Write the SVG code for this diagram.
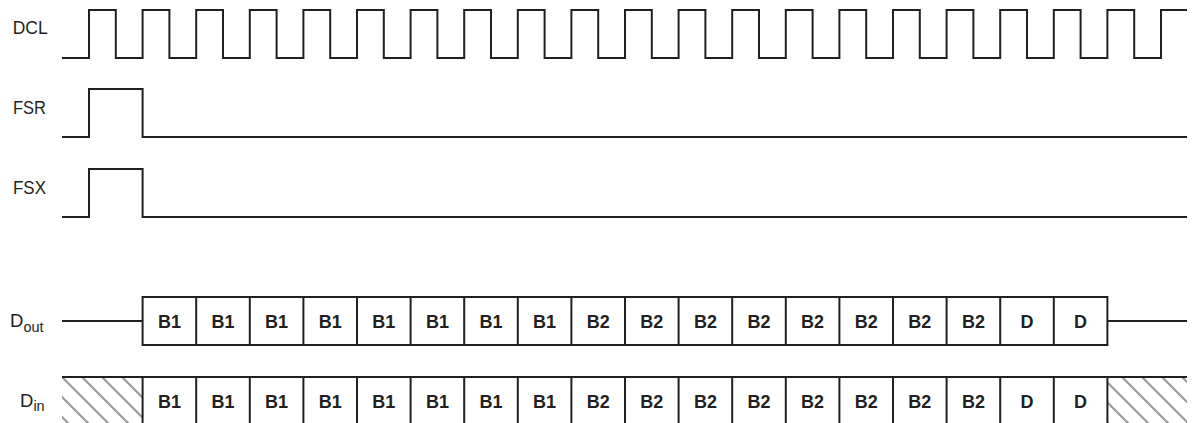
<svg xmlns="http://www.w3.org/2000/svg" width="1193" height="423" viewBox="0 0 1193 423">
<style>
.sig{fill:none;stroke:#231f20;stroke-width:2;stroke-linejoin:miter;stroke-linecap:butt}
.lbl{font-family:"Liberation Sans",Arial,sans-serif;font-size:18.5px;fill:#231f20}
.sub{font-size:14.5px}
.cell{font-family:"Liberation Sans",Arial,sans-serif;font-size:18px;font-weight:bold;fill:#231f20;text-anchor:middle}
</style>
<defs>
<pattern id="hatch" patternUnits="userSpaceOnUse" width="20" height="20" x="62" y="377">
<path d="M-5,-5 L25,25 M-5,15 L5,25 M15,-5 L25,5" stroke="#9a9a9a" stroke-width="2.2" fill="none"/>
</pattern>
</defs>
<rect width="1193" height="423" fill="#ffffff"/>

<g id="dcl">
<text class="lbl" x="12.7" y="33.5" textLength="35" lengthAdjust="spacingAndGlyphs">DCL</text>
<path class="sig" d="M62,58 H89 V10 H115.8 V58 H142.6 V10 H169.4 V58 H196.2 V10 H223 V58 H249.8 V10 H276.6 V58 H303.4 V10 H330.2 V58 H357 V10 H383.8 V58 H410.6 V10 H437.4 V58 H464.2 V10 H491 V58 H517.8 V10 H544.6 V58 H571.4 V10 H598.2 V58 H625 V10 H651.8 V58 H678.6 V10 H705.4 V58 H732.2 V10 H759 V58 H785.8 V10 H812.6 V58 H839.4 V10 H866.2 V58 H893 V10 H919.8 V58 H946.6 V10 H973.4 V58 H1000.2 V10 H1027 V58 H1053.8 V10 H1080.6 V58 H1107.4 V10 H1134.2 V58 H1161 V10 H1187"/>
</g>

<g id="fsr">
<text class="lbl" x="13" y="113.5" textLength="33" lengthAdjust="spacingAndGlyphs">FSR</text>
<path class="sig" d="M62,137 H89 V89 H142.6 V137 H1187"/>
</g>

<g id="fsx">
<text class="lbl" x="13" y="193.5" textLength="33" lengthAdjust="spacingAndGlyphs">FSX</text>
<path class="sig" d="M62,217 H89 V169 H142.6 V217 H1187"/>
</g>

<g id="dout">
<text class="lbl" x="10" y="327">D<tspan class="sub" dy="5">out</tspan></text>
<path class="sig" d="M62,321 H142.6 M1107.4,321 H1187"/>
<rect class="sig" x="142.6" y="297" width="964.8" height="48"/>
<path class="sig" d="M196.2,297 V345 M249.8,297 V345 M303.4,297 V345 M357,297 V345 M410.6,297 V345 M464.2,297 V345 M517.8,297 V345 M571.4,297 V345 M625,297 V345 M678.6,297 V345 M732.2,297 V345 M785.8,297 V345 M839.4,297 V345 M893,297 V345 M946.6,297 V345 M1000.2,297 V345 M1053.8,297 V345"/>
<g class="cell">
<text x="169.4" y="327.5">B1</text>
<text x="223" y="327.5">B1</text>
<text x="276.6" y="327.5">B1</text>
<text x="330.2" y="327.5">B1</text>
<text x="383.8" y="327.5">B1</text>
<text x="437.4" y="327.5">B1</text>
<text x="491" y="327.5">B1</text>
<text x="544.6" y="327.5">B1</text>
<text x="598.2" y="327.5">B2</text>
<text x="651.8" y="327.5">B2</text>
<text x="705.4" y="327.5">B2</text>
<text x="759" y="327.5">B2</text>
<text x="812.6" y="327.5">B2</text>
<text x="866.2" y="327.5">B2</text>
<text x="919.8" y="327.5">B2</text>
<text x="973.4" y="327.5">B2</text>
<text x="1027" y="327.5">D</text>
<text x="1080.6" y="327.5">D</text>
</g>
</g>

<g id="din">
<text class="lbl" x="20" y="407">D<tspan class="sub" dy="4">in</tspan></text>
<rect x="62" y="378" width="80.6" height="46" fill="url(#hatch)"/>
<rect x="1107.4" y="378" width="79.6" height="46" fill="url(#hatch)"/>
<path class="sig" d="M62,377 H1187 M142.6,377 V424 M196.2,377 V424 M249.8,377 V424 M303.4,377 V424 M357,377 V424 M410.6,377 V424 M464.2,377 V424 M517.8,377 V424 M571.4,377 V424 M625,377 V424 M678.6,377 V424 M732.2,377 V424 M785.8,377 V424 M839.4,377 V424 M893,377 V424 M946.6,377 V424 M1000.2,377 V424 M1053.8,377 V424 M1107.4,377 V424"/>
<g class="cell">
<text x="169.4" y="408">B1</text>
<text x="223" y="408">B1</text>
<text x="276.6" y="408">B1</text>
<text x="330.2" y="408">B1</text>
<text x="383.8" y="408">B1</text>
<text x="437.4" y="408">B1</text>
<text x="491" y="408">B1</text>
<text x="544.6" y="408">B1</text>
<text x="598.2" y="408">B2</text>
<text x="651.8" y="408">B2</text>
<text x="705.4" y="408">B2</text>
<text x="759" y="408">B2</text>
<text x="812.6" y="408">B2</text>
<text x="866.2" y="408">B2</text>
<text x="919.8" y="408">B2</text>
<text x="973.4" y="408">B2</text>
<text x="1027" y="408">D</text>
<text x="1080.6" y="408">D</text>
</g>
</g>
</svg>
